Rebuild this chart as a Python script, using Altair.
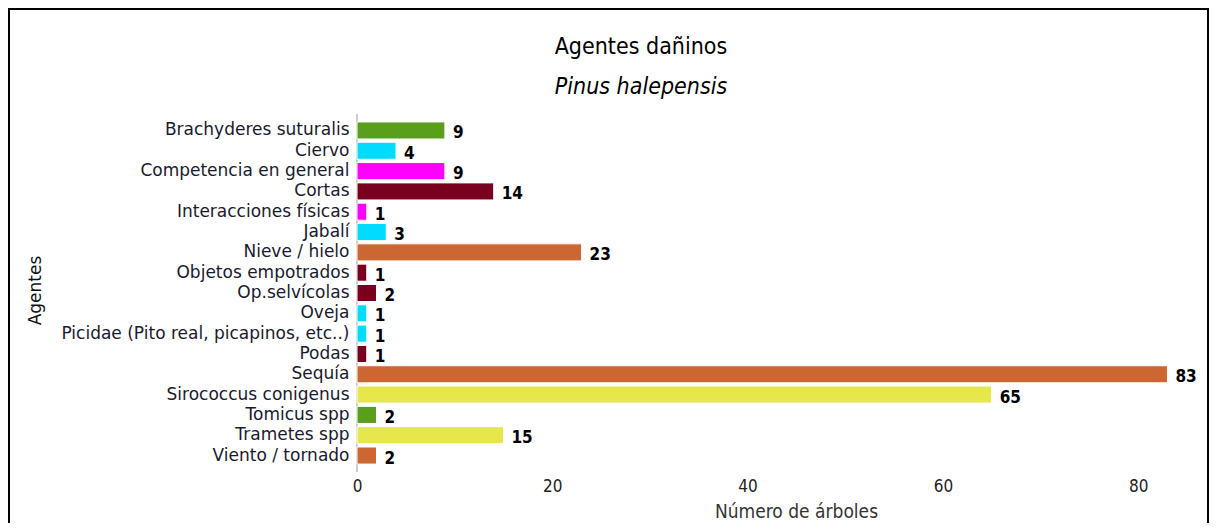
import altair as alt
import pandas as pd

agentes = [
    "Brachyderes suturalis", "Ciervo", "Competencia en general", "Cortas",
    "Interacciones físicas", "Jabalí", "Nieve / hielo", "Objetos empotrados",
    "Op.selvícolas", "Oveja", "Picidae (Pito real, picapinos, etc..)", "Podas",
    "Sequía", "Sirococcus conigenus", "Tomicus spp", "Trametes spp", "Viento / tornado",
]
valores = [9, 4, 9, 14, 1, 3, 23, 1, 2, 1, 1, 1, 83, 65, 2, 15, 2]
grupos = [
    "Insectos", "Fauna", "Competencia", "Humano",
    "Competencia", "Fauna", "Abiótico", "Humano",
    "Humano", "Fauna", "Fauna", "Humano",
    "Abiótico", "Hongos", "Insectos", "Hongos", "Abiótico",
]
grupo_dom = ["Insectos", "Fauna", "Competencia", "Humano", "Abiótico", "Hongos"]
grupo_col = ["#5a9e1e", "#00dcff", "#ff00ff", "#7a0020", "#cc6633", "#e6e64d"]
titulo = "Agentes dañinos"
subtitulo = "Pinus halepensis"

df = pd.DataFrame({"Agente": agentes, "Valor": valores, "Grupo": grupos})
tdf = pd.DataFrame({"t": [titulo], "s": [subtitulo]})

W, H = 830, 358
PL, PT, PR, PB = 349, 106, 22, 51

y = alt.Y("Agente:N", sort=agentes, title="Agentes",
          scale=alt.Scale(paddingInner=0.16, paddingOuter=0.39),
          axis=alt.Axis(ticks=False, domain=False, labelFont="DejaVu Sans",
                        labelFontSize=17, labelColor="#1a1a2e", labelPadding=8,
                        titleFont="DejaVu Sans", titleFontSize=17, titleFontWeight="normal",
                        titleColor="#111", titleX=-313, titleY=H / 2 - 3,
                        titleAnchor="middle", labelLimit=400))
x = alt.X("Valor:Q", title="Número de árboles",
          scale=alt.Scale(domain=[0, 85], nice=False),
          axis=alt.Axis(values=[0, 20, 40, 60, 80], ticks=False, domain=False,
                        gridColor="#cccccc", gridWidth=1, labelFlush=False,
                        labelFont="DejaVu Sans Condensed", labelFontSize=17,
                        labelColor="#222", labelPadding=6,
                        titleFont="DejaVu Sans Condensed", titleFontSize=19,
                        titleFontWeight="normal", titleColor="#333", titlePadding=8,
                        titleX=439, titleAnchor="middle"))

bars = alt.Chart(df).mark_bar(stroke="white", strokeWidth=1).encode(
    y=y, x=x,
    color=alt.Color("Grupo:N", scale=alt.Scale(domain=grupo_dom, range=grupo_col), legend=None),
)
zero = alt.Chart(df).mark_rule(color="#cccccc", strokeWidth=1).encode(
    x=alt.datum(0), y=alt.value(0), y2=alt.value(H)
)
labels = alt.Chart(df).mark_text(
    align="left", baseline="middle", dx=8, dy=3, font="DejaVu Sans Condensed",
    fontSize=17, fontWeight="bold", color="#000"
).encode(y=alt.Y("Agente:N", sort=agentes), x="Valor:Q", text="Valor:Q")

frame = alt.Chart(tdf).mark_rect(fill=None, stroke="#000", strokeWidth=2, clip=False).encode(
    x=alt.value(-PL + 1), x2=alt.value(W + PR - 1),
    y=alt.value(-PT + 1), y2=alt.value(H + PB + 20),
)
title_t = alt.Chart(tdf).mark_text(
    align="center", baseline="middle", font="DejaVu Sans Condensed", fontSize=23, color="#000"
).encode(x=alt.value(284), y=alt.value(-67), text="t:N")
sub_t = alt.Chart(tdf).mark_text(
    align="center", baseline="middle", font="DejaVu Sans Condensed", fontSize=23,
    fontStyle="italic", color="#000"
).encode(x=alt.value(284), y=alt.value(-27), text="s:N")

chart = alt.layer(zero, bars, labels, frame, title_t, sub_t).properties(
    width=W, height=H,
    autosize=alt.AutoSizeParams(type="none"),
    padding={"left": PL, "top": PT, "right": PR, "bottom": PB},
).configure(background="white").configure_view(strokeWidth=0, stroke=None)

chart.save("out.html", embed_options={"renderer": "svg", "actions": False})
